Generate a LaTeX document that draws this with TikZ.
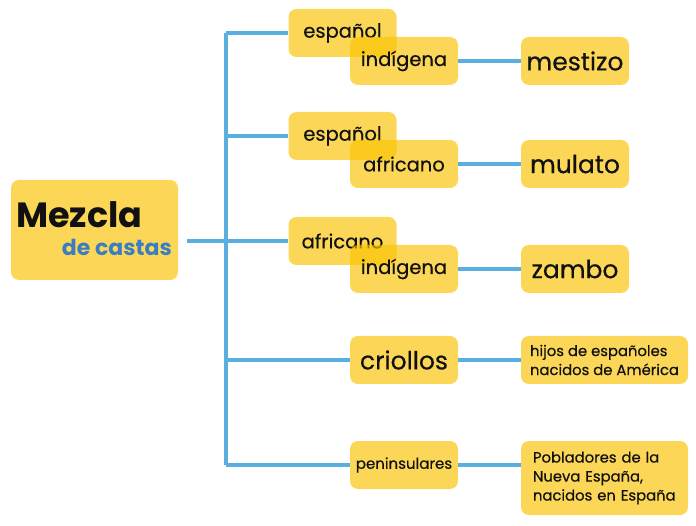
\documentclass[tikz,border=0pt]{standalone}
\usepackage{fontspec}
\setmainfont{Poppins}[FakeBold=0.45]
\newfontfamily\headfont{Poppins}
\definecolor{boxy}{HTML}{FAC300}
\definecolor{linkblue}{HTML}{5AAEE0}
\definecolor{castblue}{HTML}{3B7CC2}
\definecolor{ink}{HTML}{111111}
\begin{document}
\begin{tikzpicture}[x=1pt,y=-1pt,
  card/.style={fill=boxy,fill opacity=0.66,text opacity=1,rounded corners=8pt,
    inner sep=0pt,text=ink,minimum width=108pt,minimum height=48pt},
  wide/.style={card,minimum width=167pt,align=left},
  link/.style={draw=linkblue,line width=4.5pt},
  fpair/.style={font=\fontsize{19.5}{22}\selectfont},
  fbig/.style={font=\fontsize{25}{28}\selectfont},
  fsmall/.style={font=\fontsize{14.8}{19}\selectfont}]
\useasboundingbox (0,0) rectangle (696,526);
% main box
\node[card,minimum width=167pt,minimum height=100pt] (main) at (94.5,230) {};
\node[anchor=base west,inner sep=0pt,text=ink,font=\headfont\fontsize{35}{37}\selectfont\bfseries] (mez) at (16,228) {Mezcla};
\node[anchor=base east,inner sep=0pt,text=castblue,font=\headfont\fontsize{22}{24}\selectfont\bfseries] (cast) at (172,256) {de castas};
% coordinates of trunk
\coordinate (top) at (226,33);
\coordinate (bot) at (226,465);
\coordinate (stem) at (187,241);
\coordinate (j2) at (226,136);
\coordinate (j4) at (226,360);
% pairs
\node[card,fpair] (esp1) at (342.5,33) {español};
\node[card,fpair] (ind1) at (404,61) {indígena};
\node[card,fbig] (mes) at (575,61) {mestizo};
\node[card,fpair] (esp2) at (342.5,136) {español};
\node[card,fpair] (afr2) at (404,164) {africano};
\node[card,fbig] (mul) at (575,164) {mulato};
\node[card,fpair] (afr3) at (342.5,241) {africano};
\node[card,fpair] (ind3) at (404,269) {indígena};
\node[card,fbig] (zam) at (575,269) {zambo};
\node[card,fbig] (cri) at (404,360) {criollos};
\node[wide,fsmall] (hij) at (604.5,360) {hijos de españoles\\nacidos de América};
\node[card,font=\fontsize{15}{18}\selectfont] (pen) at (404,465) {peninsulares};
\node[wide,fsmall,minimum height=74pt,text width=143pt] (pob) at (604.5,478) {Pobladores de la\\Nueva España,\\nacidos en España};
% connectors
\draw[link] (top) -- (bot);
\draw[link] (stem) -- (afr3.west);
\draw[link] (top) -- (esp1.west);
\draw[link] (j2) -- (esp2.west);
\draw[link] (j4) -- (cri.west);
\draw[link] (bot) -- (pen.west);
\draw[link] (ind1.east) -- (mes.west);
\draw[link] (afr2.east) -- (mul.west);
\draw[link] (ind3.east) -- (zam.west);
\draw[link] (cri.east) -- (hij.west);
\draw[link] (pen.east) -- (pen.east -| pob.west);
\end{tikzpicture}
\end{document}
